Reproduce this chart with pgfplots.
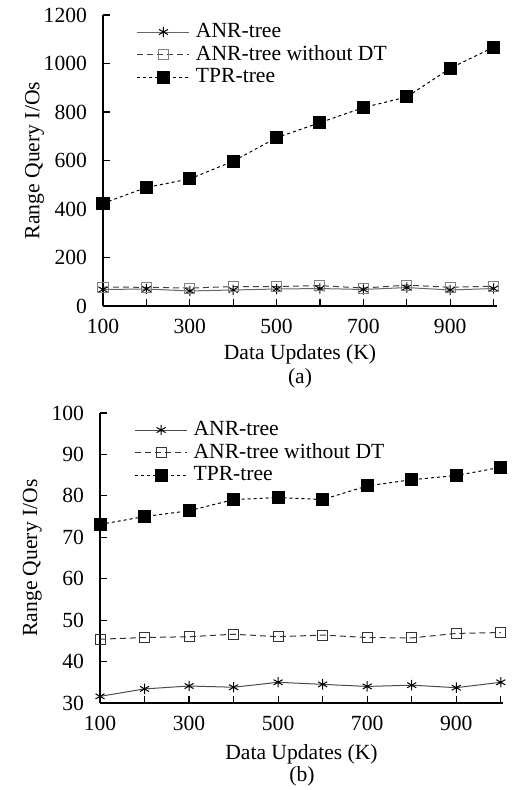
\documentclass[border=0pt]{standalone}
\usepackage{fontspec}
\setmainfont{Liberation Serif}
\usepackage{pgfplots}
\pgfplotsset{compat=1.18}

\pgfplotsset{
  anrplot/.style={
    scale only axis,
    anchor=south west,
    axis x line=bottom, axis y line=left,
    axis line style={-, line width=0.6pt},
    tick style={black, line width=0.6pt},
    major tick length=3.5pt,
    tick align=inside,
    font=\fontsize{10.8}{12}\selectfont,
    /pgf/number format/1000 sep={},
    /pgf/number format/assume math mode=true,
    yticklabel style={xshift=-4.5pt},
    xticklabel style={yshift=-3pt},
    xtick={100,200,...,1000},
    xticklabels={100,,300,,500,,700,,900,},
    xlabel={Data Updates (K)},
    ylabel={Range Query I/Os},
    legend cell align=left,
    legend style={draw=none, fill=none, anchor=north west,
      at={(axis description cs:0.07,1.0)},
      font=\fontsize{10.8}{12}\selectfont, row sep=-1.5pt,
      nodes={inner xsep=3pt}},
    legend image code/.code={
      \draw[mark repeat=2, mark phase=2] plot coordinates {(0pt,0pt) (13pt,0pt) (26pt,0pt)};
    },
  },
  anr/.style={line width=0.5pt, color=black!60, mark=asterisk, mark size=2.6pt,
    mark options={solid, black}},
  nodt/.style={line width=0.5pt, color=black!75, dash pattern=on 3pt off 2pt,
    mark=square, mark size=2.5pt, mark options={solid, black!50}},
  tpr/.style={line width=0.5pt, color=black, dash pattern=on 1.5pt off 1.5pt,
    mark=square*, mark size=3pt, mark options={solid, black}},
}

\begin{document}
\begin{tikzpicture}
\path[use as bounding box] (0pt,0pt) rectangle (258pt,395pt);

% (a)
\begin{axis}[anrplot,
  at={(51.5pt,242pt)}, width=197pt, height=145.5pt,
  xmin=100, xmax=1008, ymin=0, ymax=1200,
  ytick={0,200,...,1200},
  ylabel style={yshift=-7pt},
  xlabel style={yshift=1.5pt}]
\addplot[anr] coordinates {(100,68) (200,70) (300,62) (400,66) (500,70) (600,72) (700,68) (800,76) (900,66) (1000,72)};
\addplot[nodt] coordinates {(100,78) (200,77) (300,74) (400,80) (500,80) (600,84) (700,74) (800,86) (900,77) (1000,82)};
\addplot[tpr] coordinates {(100,423) (200,489) (300,524) (400,597) (500,694) (600,756) (700,818) (800,862) (900,980) (1000,1067)};
\legend{ANR-tree, ANR-tree without DT, TPR-tree}
\end{axis}
\node[font=\fontsize{10.8}{12}\selectfont] at (150pt,206pt) {(a)};

% (b)
\begin{axis}[anrplot,
  at={(50pt,43.5pt)}, width=201.5pt, height=145pt,
  xmin=100, xmax=1005, ymin=30, ymax=100,
  ytick={30,40,...,100},
  ylabel style={yshift=-2pt}]
\addplot[anr, color=black!70] coordinates {(100,31.6) (200,33.4) (300,34.1) (400,33.8) (500,35.0) (600,34.5) (700,34.0) (800,34.3) (900,33.7) (1000,35.0)};
\addplot[nodt, color=black!80, mark options={solid, black!80}] coordinates {(100,45.4) (200,45.8) (300,46.0) (400,46.6) (500,46.0) (600,46.4) (700,45.8) (800,45.7) (900,46.8) (1000,47.0)};
\addplot[tpr] coordinates {(100,73.1) (200,75.0) (300,76.4) (400,79.1) (500,79.6) (600,79.1) (700,82.4) (800,83.9) (900,84.9) (1000,86.9)};
\legend{ANR-tree, ANR-tree without DT, TPR-tree}
\end{axis}
\node[font=\fontsize{10.8}{12}\selectfont] at (151pt,7pt) {(b)};
\end{tikzpicture}
\end{document}
